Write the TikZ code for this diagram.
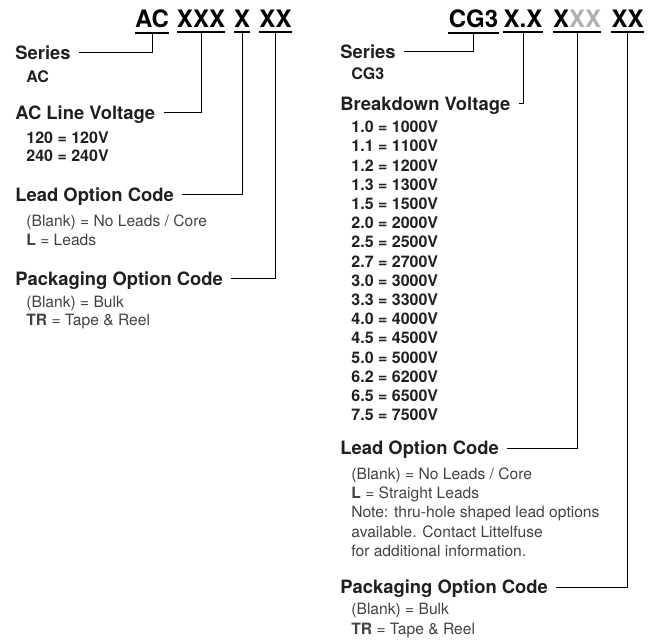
\documentclass[tikz,border=0pt]{standalone}
\usepackage{fontspec}
\setmainfont{TeX Gyre Heros}
\usepackage{xcolor}
\usetikzlibrary{positioning}
\definecolor{pntext}{RGB}{35,31,32}
\definecolor{pngray}{RGB}{178,178,178}

\begin{document}
\begin{tikzpicture}[x=0.5pt, y=-0.5pt,
  part/.style={font=\fontsize{12}{14}\selectfont\bfseries, inner xsep=0pt, inner ysep=2pt,
               anchor=base, text=black},
  head/.style={font=\fontsize{9.2}{11}\selectfont\bfseries, inner sep=0pt, anchor=west,
               text height=6.6pt, text depth=0pt, text=pntext},
  code/.style={font=\fontsize{8}{9.2}\selectfont\bfseries, inner sep=0pt, anchor=north west,
               align=left, text=pntext},
  desc/.style={font=\fontsize{7.8}{9.6}\selectfont, inner sep=0pt, anchor=north west,
               align=left, text=pntext!85},
  uline/.style={line width=1pt, black},
  conn/.style={line width=0.5pt, black, shorten >=4pt},
]
\useasboundingbox (0,0) rectangle (662,640);
% ---- AC part number ----
\node[part] (acS) at (152,28) {AC};
\node[part] (acV) at (201,28) {XXX};
\node[part] (acL) at (242,28) {X};
\node[part] (acP) at (275.5,28) {XX};
\foreach \n in {acS,acV,acL,acP}
  \draw[uline] (\n.south west) -- (\n.south east);
\node[head] (acser) at (15,53) {Series};
\node[code] (acserv) at (26,70) {AC};
\node[head] (acvolt) at (15,113) {AC Line Voltage};
\node[code] (acvoltv) at (26,131) {120 = 120V\\240 = 240V};
\node[head] (aclead) at (15,195) {Lead Option Code};
\node[desc] (acleadv) at (26,214) {(Blank) = No Leads / Core\\\textbf{L} = Leads};
\node[head] (acpack) at (15,279) {Packaging Option Code};
\node[desc, font=\fontsize{7.8}{9.1}\selectfont] (acpackv) at (26,295.5) {(Blank) = Bulk\\\textbf{TR} = Tape \& Reel};
\draw[conn] (acS.south) |- (acser.east);
\draw[conn] (acV.south) |- (acvolt.east);
\draw[conn] (acL.south) |- (aclead.east);
\draw[conn] (acP.south) |- (acpack.east);
% ---- CG3 part number ----
\node[part] (cgS) at (473.5,28) {CG3};
\node[part] (cgV) at (523,28) {X.X};
\node[part] (cgL) at (577,28) {X\textcolor{pngray}{XX}};
\node[part] (cgP) at (627.5,28) {XX};
\foreach \n in {cgS,cgV,cgL,cgP}
  \draw[uline] (\n.south west) -- (\n.south east);
\node[head] (cgser) at (340,52) {Series};
\node[code] (cgserv) at (351,67) {CG3};
\node[head] (cgvolt) at (340,104) {Breakdown Voltage};
\foreach \v/\w [count=\i from 0] in {1.0/1000,1.1/1100,1.2/1200,1.3/1300,1.5/1500,2.0/2000,
    2.5/2500,2.7/2700,3.0/3000,3.3/3300,4.0/4000,4.5/4500,5.0/5000,6.2/6200,6.5/6500,7.5/7500}
  \node[code, anchor=west] (cgvolt\i) at (351,{127+19.2*\i}) {\v\ = \w V};
\node[head] (cglead) at (340,448) {Lead Option Code};
\node[desc] (cgleadv) at (351,467.5) {(Blank) = No Leads / Core\\\textbf{L} = Straight Leads\\
  Note: thru-hole shaped lead options\\available. Contact Littelfuse\\for additional information.};
\node[head] (cgpack) at (340,587) {Packaging Option Code};
\node[desc, font=\fontsize{7.8}{9.9}\selectfont] (cgpackv) at (351,602.5) {(Blank) = Bulk\\\textbf{TR} = Tape \& Reel};
\draw[conn] (cgS.south) |- (cgser.east);
\draw[conn] (cgV.south) |- (cgvolt.east);
\draw[conn] (cgL.south) |- (cglead.east);
\draw[conn] (cgP.south) |- (cgpack.east);
\end{tikzpicture}
\end{document}
